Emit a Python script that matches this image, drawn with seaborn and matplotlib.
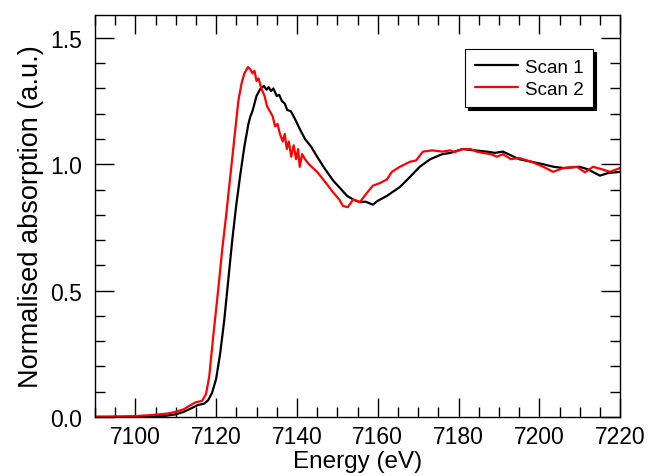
import pandas as pd
import matplotlib
matplotlib.use("Agg")
import matplotlib.pyplot as plt
import seaborn as sns
from matplotlib.ticker import MultipleLocator

# ── Data ──────────────────────────────────────────────────────────────────────
scan1_energy = [7090, 7095, 7100, 7104, 7107, 7110, 7112, 7114, 7115.5, 7117,
                7118, 7119, 7120, 7121, 7122, 7123, 7124, 7125, 7126, 7127,
                7128, 7128.5, 7129, 7130, 7131, 7131.8, 7132.5, 7133, 7133.6, 7134.2,
                7135, 7135.6, 7136.3, 7137, 7137.6, 7138.5, 7139.5, 7140.7, 7142, 7143.5,
                7145, 7147, 7149, 7151, 7152.4, 7154, 7155.6, 7157, 7158.8, 7160,
                7162.3, 7165.5, 7168, 7170.4, 7173, 7176, 7178, 7181, 7184, 7187,
                7189, 7191, 7193, 7195, 7198, 7201, 7203.5, 7206, 7210, 7212,
                7215, 7217, 7220]
scan1_abs = [0.0, 0.0, 0.0, 0.001, 0.003, 0.01, 0.02, 0.035, 0.047, 0.052,
             0.065, 0.095, 0.15, 0.25, 0.38, 0.54, 0.70, 0.84, 0.96, 1.07,
             1.16, 1.19, 1.21, 1.27, 1.30, 1.31, 1.295, 1.305, 1.29, 1.30,
             1.27, 1.275, 1.25, 1.24, 1.215, 1.21, 1.18, 1.14, 1.10, 1.07,
             1.03, 0.98, 0.935, 0.90, 0.875, 0.86, 0.85, 0.852, 0.84, 0.855,
             0.875, 0.91, 0.95, 0.99, 1.02, 1.04, 1.045, 1.06, 1.055, 1.05,
             1.045, 1.05, 1.035, 1.02, 1.01, 1.0, 0.99, 0.985, 0.99, 0.98,
             0.955, 0.965, 0.97]

scan2_energy = [7090, 7095, 7100, 7104, 7108, 7110, 7112, 7113.5, 7115, 7116.5,
                7117.5, 7118.3, 7119.3, 7120.5, 7121.5, 7122.5, 7123.5, 7124.5, 7125.5, 7126.3,
                7127, 7127.9, 7128.5, 7129, 7129.5, 7130, 7130.5, 7131.2, 7132, 7132.6,
                7133.3, 7134, 7134.6, 7135.2, 7135.8, 7136.5, 7137, 7137.5, 7138, 7138.6,
                7139.2, 7139.8, 7140.3, 7140.7, 7141.3, 7142, 7143, 7145, 7147, 7148.9,
                7150.5, 7151.4, 7152.6, 7153.9, 7154.8, 7155.6, 7157, 7158.8, 7160.5, 7162.3,
                7163.5, 7165.5, 7168, 7169.5, 7171.2, 7173.5, 7176, 7178, 7179, 7181,
                7183, 7184.5, 7186, 7188, 7189.5, 7191, 7193, 7195, 7198, 7201,
                7203.4, 7206, 7209.3, 7211.3, 7213.3, 7215.5, 7217.5, 7220]
scan2_abs = [0.0, 0.001, 0.003, 0.007, 0.013, 0.02, 0.03, 0.045, 0.058, 0.063,
             0.09, 0.16, 0.32, 0.50, 0.66, 0.80, 0.95, 1.10, 1.25, 1.32,
             1.36, 1.385, 1.375, 1.36, 1.37, 1.33, 1.34, 1.30, 1.27, 1.23,
             1.21, 1.19, 1.15, 1.16, 1.12, 1.09, 1.12, 1.06, 1.09, 1.03,
             1.075, 1.02, 1.06, 0.99, 1.04, 1.02, 1.0, 0.97, 0.93, 0.89,
             0.86, 0.835, 0.83, 0.86, 0.855, 0.85, 0.88, 0.915, 0.925, 0.94,
             0.97, 0.99, 1.01, 1.015, 1.05, 1.055, 1.05, 1.055, 1.048, 1.06,
             1.06, 1.05, 1.045, 1.04, 1.03, 1.04, 1.02, 1.025, 1.01, 0.99,
             0.97, 0.985, 0.99, 0.968, 0.99, 0.98, 0.97, 0.985]

df = pd.concat([
    pd.DataFrame({"energy": scan1_energy, "absorption": scan1_abs, "scan": "Scan 1"}),
    pd.DataFrame({"energy": scan2_energy, "absorption": scan2_abs, "scan": "Scan 2"}),
])

# ── Style ────────────────────────────────────────────────────────────────────
sns.set_style("ticks")
plt.rcParams["font.family"] = ["Liberation Sans", "DejaVu Sans"]
plt.rcParams["text.color"] = "black"
plt.rcParams["axes.labelcolor"] = "black"
plt.rcParams["xtick.color"] = "black"
plt.rcParams["ytick.color"] = "black"

fig, ax = plt.subplots(figsize=(6.5, 4.77), dpi=100)
fig.subplots_adjust(left=0.146, right=0.954, top=0.966, bottom=0.124)

sns.lineplot(data=df, x="energy", y="absorption", hue="scan",
             palette={"Scan 1": "black", "Scan 2": "#ff0000"},
             linewidth=1.6, sort=False, estimator=None, ax=ax)

ax.set_xlim(7090, 7220)
ax.set_ylim(0, 1.59)
ax.xaxis.set_major_locator(MultipleLocator(20))
ax.xaxis.set_minor_locator(MultipleLocator(5))
ax.yaxis.set_major_locator(MultipleLocator(0.5))
ax.yaxis.set_minor_locator(MultipleLocator(0.1))
ax.tick_params(which="both", direction="in", top=True, right=True,
               width=1, colors="black", labelsize=16.5)
ax.tick_params(axis="x", which="both", pad=6)
ax.tick_params(axis="y", which="both", pad=9)
ax.tick_params(which="major", length=13.5)
ax.tick_params(which="minor", length=7)
for s in ax.spines.values():
    s.set_linewidth(1)
    s.set_color("black")

ax.set_xlabel("Energy (eV)", fontsize=17.5, labelpad=1)
ax.set_ylabel("Normalised absorption (a.u.)", fontsize=19.5, labelpad=5)

leg = ax.legend(loc="upper right", bbox_to_anchor=(0.949, 0.915),
                borderaxespad=0, fontsize=13.5, handlelength=2.3,
                fancybox=False, edgecolor="black", framealpha=1,
                shadow={"color": "black", "alpha": 1},
                labelspacing=0.25, borderpad=0.5, handletextpad=0.4)
leg.get_frame().set_linewidth(0.8)

plt.savefig("out.png", dpi=100)
